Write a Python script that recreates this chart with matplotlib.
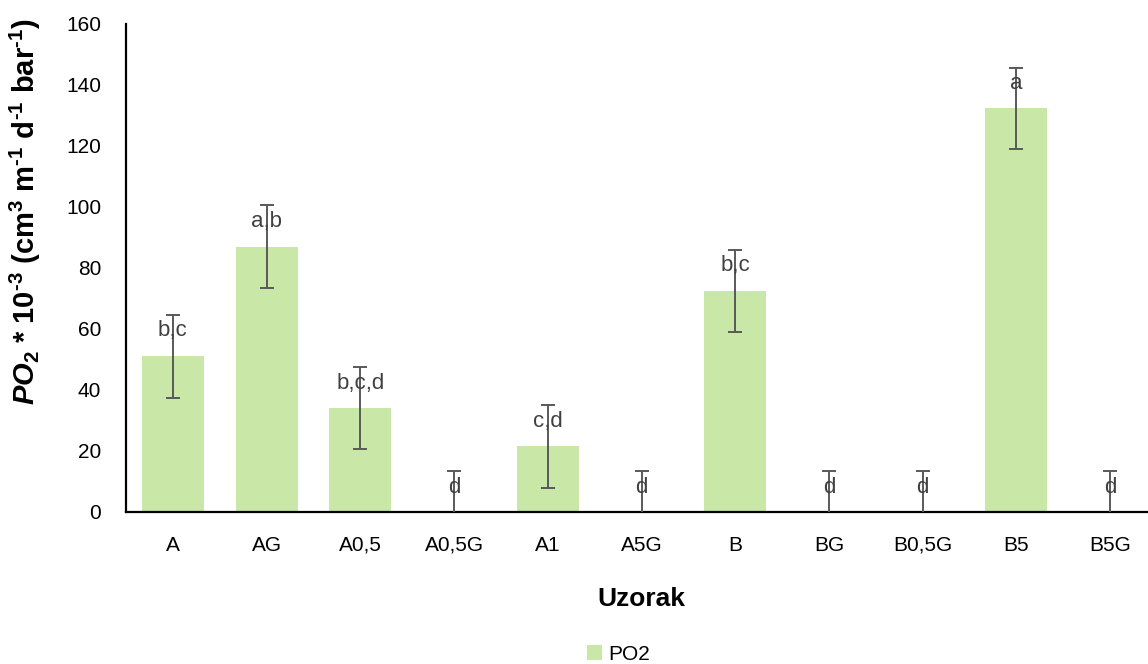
import numpy as np
import matplotlib
matplotlib.use("Agg")
import matplotlib.pyplot as plt

# Podaci
uzorci = ["A", "AG", "A0,5", "A0,5G", "A1", "A5G", "B", "BG", "B0,5G", "B5", "B5G"]
po2 = [51.0, 87.0, 34.0, 0.0, 21.5, 0.0, 72.5, 0.0, 0.0, 132.3, 0.0]
greska = [13.6, 13.6, 13.5, 13.4, 13.5, 13.4, 13.5, 13.4, 13.4, 13.4, 13.4]
slova = ["b,c", "a,b", "b,c,d", "d", "c,d", "d", "b,c", "d", "d", "a", "d"]

plt.rcParams['font.family'] = ['Liberation Sans', 'DejaVu Sans']
plt.rcParams['mathtext.fontset'] = 'custom'
plt.rcParams['mathtext.rm'] = 'Liberation Sans:bold'
plt.rcParams['mathtext.it'] = 'Liberation Sans:bold:italic'
plt.rcParams['mathtext.bf'] = 'Liberation Sans:bold'

fig = plt.figure(figsize=(11.48, 6.64), dpi=100)
ax = fig.add_axes([0.1098, 0.229, 0.898, 0.735])

x = np.arange(len(uzorci))
ax.bar(x, po2, width=0.66, color='#c9e7a7', label='PO2', zorder=2)
ax.errorbar(x, po2, yerr=greska, fmt='none', ecolor='#595959',
            elinewidth=1.4, capsize=5, capthick=1.4, zorder=3)

# slova iznad stupaca
for i in range(len(uzorci)):
    ax.annotate(slova[i], (x[i], po2[i] + greska[i]), xytext=(0, -16),
                textcoords='offset pixels', ha='center', va='center',
                fontsize=16, color='#404040', zorder=4)

ax.set_xlim(-0.5, len(uzorci) - 0.5)
ax.set_ylim(0, 160)
ax.set_yticks(np.arange(0, 161, 20))
ax.set_xticks(x)
ax.set_xticklabels(uzorci)
ax.tick_params(axis='both', length=0, labelsize=15)
ax.tick_params(axis='y', pad=18)
ax.tick_params(axis='x', pad=28)
for lab in ax.get_xticklabels():
    lab.set_verticalalignment('baseline')

for s in ['top', 'right']:
    ax.spines[s].set_visible(False)
for s in ['left', 'bottom']:
    ax.spines[s].set_linewidth(1.6)
    ax.spines[s].set_color('black')

ax.set_xlabel("Uzorak", fontsize=19, fontweight='bold', labelpad=23)
ax.set_ylabel(r"$\mathit{PO}_2$ * 10$^{\text{-}3}$ (cm$^3$ m$^{\text{-}1}$ d$^{\text{-}1}$ bar$^{\text{-}1}$)",
              fontsize=21, fontweight='bold')
ax.yaxis.set_label_coords(-0.081, 0.615)

fig.legend(loc='center', bbox_to_anchor=(0.539, 1 - 654 / 664), frameon=False,
           fontsize=15, handlelength=0.7, handleheight=0.7, handletextpad=0.3,
           bbox_transform=fig.transFigure)

fig.savefig("out.png", dpi=100)
